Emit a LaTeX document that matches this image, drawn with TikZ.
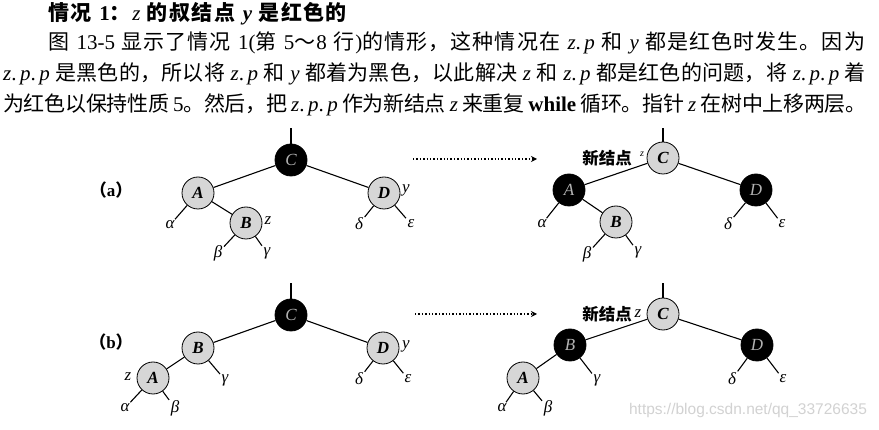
\documentclass[tikz,border=0pt]{standalone}
\usepackage{fontspec}
\setmainfont{Liberation Serif}
\newfontfamily\cjk{Noto Sans CJK SC}
\newfontfamily\wmfont{Liberation Sans}
\usetikzlibrary{arrows.meta}
\makeatletter
\def\C#1{{\cjk\C@loop#1\C@end}}
\def\C@end{\C@end}
\def\C@loop#1{\ifx#1\C@end\else#1\hskip0pt plus 3pt minus 0.5pt\relax\expandafter\C@loop\fi}
\makeatother
\newcommand\zp{\textit{z}.\,\textit{p}}
\newcommand\zpp{\textit{z}.\,\textit{p}.\,\textit{p}}
\tikzset{
  txt/.style={anchor=west, inner sep=0pt, font=\fontsize{21}{21}\selectfont},
  rb/.style={circle, draw, line width=0.8pt, minimum size=32pt, inner sep=0pt, fill=gray!32,
     font=\fontsize{17}{17}\selectfont\itshape\bfseries},
  bk/.style={circle, draw, line width=0.8pt, minimum size=32pt, inner sep=0pt, fill=black, text=gray!60,
     font=\fontsize{17}{17}\selectfont\itshape},
  lab/.style={inner sep=1.5pt, font=\fontsize{17}{17}\selectfont\itshape},
  edge/.style={line width=1.1pt},
  darr/.style={dotted, line width=1.4pt, -{Stealth[length=6pt,width=6pt]}},
  caselab/.style={font=\fontsize{17}{17}\selectfont\bfseries},
}
\begin{document}
\begin{tikzpicture}[x=1pt,y=-1pt]
\useasboundingbox[fill=white] (0,0) rectangle (879,430);
% text
\node[txt] (t1) at (48,14) {\makebox[300pt][s]{\bfseries\C{情况} 1\C{：}{\mdseries\textit{z}} \C{的叔结点} \textit{y} \C{是红色的}}};
\node[txt] (t2) at (48,43) {\makebox[818pt][s]{\C{图} 13-5 \C{显示了情况} 1(\C{第} 5\C{～}8 \C{行})\C{的情形，这种情况在} \zp{} \C{和} \textit{y} \C{都是红色时发生。因为}}};
\node[txt] (t3) at (3,74) {\makebox[863pt][s]{\zpp{} \C{是黑色的，所以将} \zp{} \C{和} \textit{y} \C{都着为黑色，以此解决} \textit{z} \C{和} \zp{} \C{都是红色的问题，将} \zpp{} \C{着}}};
\node[txt] (t4) at (3,105) {\makebox[863pt][s]{\C{为红色以保持性质} 5\C{。然后，把} \zpp{} \C{作为新结点} \textit{z} \C{来重复} \textbf{while} \C{循环。指针} \textit{z} \C{在树中上移两层。}}};

% ---------- (a) left ----------
\node[caselab] (la) at (111,190) {{\cjk （}a{\cjk ）}};
\node[bk] (aC) at (291,160) {C};
\node[rb] (aA) at (198,193) {A};
\node[rb] (aB) at (246,223) {B};
\node[rb] (aD) at (384,193) {D};
\coordinate (aT) at (291,128);
\draw[edge] (aC) -- (aT);
\draw[edge] (aC) -- (aA);
\draw[edge] (aC) -- (aD);
\draw[edge] (aA) -- (aB);
\node[lab] (aal) at (170,225) {α};
\node[lab] (abe) at (218,253) {β};
\node[lab] (aga) at (267,253) {γ};
\node[lab] (ade) at (359,224) {δ};
\node[lab] (aep) at (411,224) {ε};
\node[lab] (az) at (268,221) {z};
\node[lab] (ay) at (406,190) {y};
\draw[edge] (aA) -- (aal);
\draw[edge] (aB) -- (abe);
\draw[edge] (aB) -- (aga);
\draw[edge] (aD) -- (ade);
\draw[edge] (aD) -- (aep);

% arrow (a)
\coordinate (aS) at (413,159);
\coordinate (aE) at (537,159);
\draw[darr] (aS) -- (aE);

% ---------- (a) right ----------
\node[rb] (cC) at (663,158) {C};
\node[bk] (cA) at (569,190) {A};
\node[rb] (cB) at (616,222) {B};
\node[bk] (cD) at (756,190) {D};
\coordinate (cT) at (663,128);
\draw[edge] (cC) -- (cT);
\draw[edge] (cC) -- (cA);
\draw[edge] (cC) -- (cD);
\draw[edge] (cA) -- (cB);
\node[lab] (cal) at (542,224) {α};
\node[lab] (cbe) at (587,254) {β};
\node[lab] (cga) at (638,252) {γ};
\node[lab] (cde) at (728,224) {δ};
\node[lab] (cep) at (782,224) {ε};
\draw[edge] (cA) -- (cal);
\draw[edge] (cB) -- (cbe);
\draw[edge] (cB) -- (cga);
\draw[edge] (cD) -- (cde);
\draw[edge] (cD) -- (cep);
\node[font=\fontsize{16.5}{16.5}\selectfont\bfseries, inner sep=0pt] (cnew) at (607,158) {{\cjk 新结点}};
\node[font=\fontsize{10}{10}\selectfont\itshape, inner sep=0pt] (cz) at (642,154) {z};

% ---------- (b) left ----------
\node[caselab] (lb) at (111,342) {{\cjk （}b{\cjk ）}};
\node[bk] (bC) at (291,315) {C};
\node[rb] (bB) at (198,348) {B};
\node[rb] (bA) at (153,378) {A};
\node[rb] (bD) at (383,348) {D};
\coordinate (bT) at (291,283);
\draw[edge] (bC) -- (bT);
\draw[edge] (bC) -- (bB);
\draw[edge] (bC) -- (bD);
\draw[edge] (bB) -- (bA);
\node[lab] (bz) at (128,377) {z};
\node[lab] (bga) at (225,380) {γ};
\node[lab] (bal) at (125,408) {α};
\node[lab] (bbe) at (175,408) {β};
\node[lab] (bde) at (359,379) {δ};
\node[lab] (bep) at (408,379) {ε};
\node[lab] (by) at (406,346) {y};
\draw[edge] (bB) -- (bga);
\draw[edge] (bA) -- (bal);
\draw[edge] (bA) -- (bbe);
\draw[edge] (bD) -- (bde);
\draw[edge] (bD) -- (bep);

% arrow (b)
\coordinate (bS) at (415,314);
\coordinate (bE) at (537,314);
\draw[darr] (bS) -- (bE);

% ---------- (b) right ----------
\node[rb] (dC) at (663,314) {C};
\node[bk] (dB) at (570,345) {B};
\node[rb] (dA) at (523,378) {A};
\node[bk] (dD) at (757,345) {D};
\coordinate (dT) at (663,283);
\draw[edge] (dC) -- (dT);
\draw[edge] (dC) -- (dB);
\draw[edge] (dC) -- (dD);
\draw[edge] (dB) -- (dA);
\node[lab] (dga) at (597,380) {γ};
\node[lab] (dal) at (502,408) {α};
\node[lab] (dbe) at (548,408) {β};
\node[lab] (dde) at (732,379) {δ};
\node[lab] (dep) at (783,379) {ε};
\draw[edge] (dB) -- (dga);
\draw[edge] (dA) -- (dal);
\draw[edge] (dA) -- (dbe);
\draw[edge] (dD) -- (dde);
\draw[edge] (dD) -- (dep);
\node[font=\fontsize{16.5}{16.5}\selectfont\bfseries, inner sep=0pt] (dnew) at (607,314) {{\cjk 新结点}};
\node[lab] (dz) at (638,314) {z};

% watermark
\node[text=gray!35, font=\fontsize{15.5}{15.5}\selectfont\wmfont, inner sep=0pt] (wm) at (748,410) {https://blog.csdn.net/qq\_33726635};
\end{tikzpicture}
\end{document}
